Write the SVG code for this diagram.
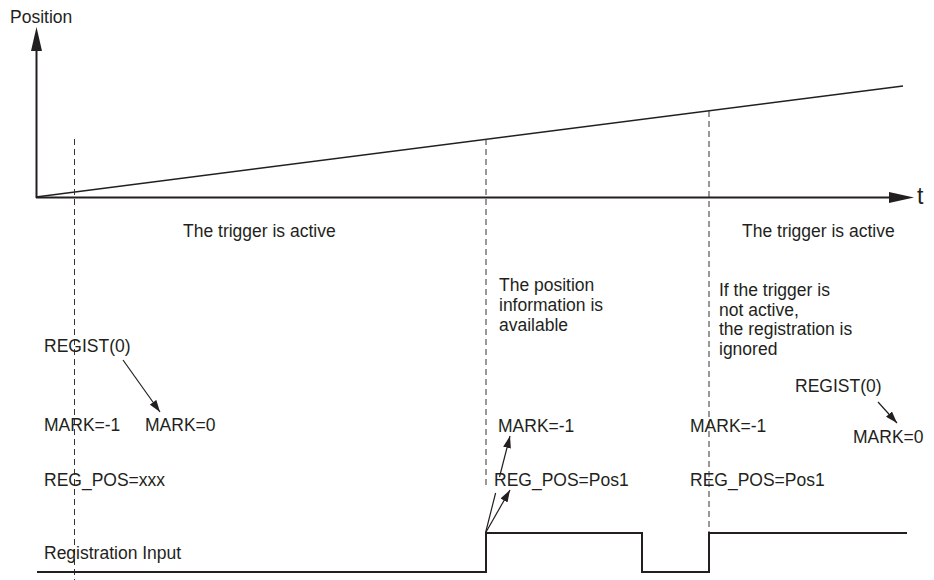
<svg xmlns="http://www.w3.org/2000/svg" width="934" height="580" viewBox="0 0 934 580">
  <style>
    text { font-family: "Liberation Sans", Arial, sans-serif; font-size: 17.5px; fill: #231f20; }
    .axis { stroke: #231f20; stroke-width: 2; fill: none; }
    .head { fill: #231f20; stroke: none; }
    .ramp { stroke: #231f20; stroke-width: 1.5; fill: none; }
    .guide { stroke: #333; stroke-width: 1; stroke-dasharray: 6 4; fill: none; }
    .pulse { stroke: #231f20; stroke-width: 2; fill: none; }
    .conn { stroke: #231f20; stroke-width: 1.2; fill: none; marker-end: url(#arr); }
  </style>
  <defs>
    <marker id="arr" markerUnits="userSpaceOnUse" markerWidth="12" markerHeight="8" viewBox="0 0 12 8" refX="12" refY="4" orient="auto">
      <path d="M0,0 L12,4 L0,8 Z" fill="#231f20"/>
    </marker>
  </defs>
  <rect width="934" height="580" fill="#ffffff"/>

  <g id="axes">
    <line class="axis" x1="36.5" y1="198" x2="36.5" y2="45"/>
    <polygon class="head" points="36.5,27 31,51 42,51"/>
    <line class="axis" x1="36" y1="197.5" x2="894" y2="197.5"/>
    <polygon class="head" points="914,197.5 889,192 889,203"/>
    <text x="10" y="23">Position</text>
    <text x="917" y="204" style="font-size:23px">t</text>
  </g>

  <g id="position-ramp">
    <line class="ramp" x1="36" y1="197" x2="903" y2="86"/>
  </g>

  <g id="guides">
    <line class="guide" x1="74.5" y1="139" x2="74.5" y2="580"/>
    <line class="guide" x1="486" y1="139" x2="486" y2="488"/>
    <line class="guide" x1="709" y1="111" x2="709" y2="533"/>
  </g>

  <g id="registration-input">
    <polyline class="pulse" points="37,572 486,572 486,533 642,533 642,572 709,572 709,533 907,533"/>
    <text x="44" y="559">Registration Input</text>
  </g>

  <g id="phase-1">
    <text x="183" y="237">The trigger is active</text>
    <text x="44" y="352">REGIST(0)</text>
    <text x="44" y="431">MARK=-1</text>
    <text x="145" y="431">MARK=0</text>
    <text x="44" y="486">REG_POS=xxx</text>
  </g>

  <g id="phase-2">
    <text x="499" y="291">The position</text>
    <text x="499" y="311">information is</text>
    <text x="499" y="331">available</text>
    <text x="498" y="432">MARK=-1</text>
    <text x="494" y="486">REG_POS=Pos1</text>
  </g>

  <g id="phase-3">
    <text x="719" y="296">If the trigger is</text>
    <text x="719" y="315.5">not active,</text>
    <text x="719" y="335">the registration is</text>
    <text x="719" y="354.5">ignored</text>
    <text x="690" y="432">MARK=-1</text>
    <text x="690" y="486">REG_POS=Pos1</text>
  </g>

  <g id="phase-4">
    <text x="742" y="237">The trigger is active</text>
    <text x="795" y="392">REGIST(0)</text>
    <text x="853" y="443">MARK=0</text>
  </g>

  <g id="connectors">
    <path class="conn" d="M123,360 L160,412"/>
    <path class="conn" d="M878,402 L897,423"/>
    <path class="conn" d="M485.5,533 L495.6,493 M499.5,477 L510,436"/>
    <path class="conn" d="M485.5,533 L510,490"/>
  </g>
</svg>
